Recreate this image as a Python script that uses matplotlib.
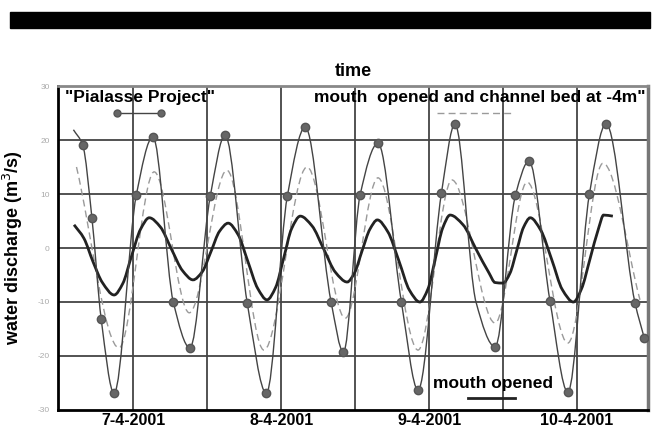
import matplotlib
matplotlib.use('Agg')
import matplotlib.pyplot as plt
from matplotlib.patches import Rectangle, PathPatch
from matplotlib.lines import Line2D
from matplotlib.path import Path

plt.rcParams['font.family'] = ['Liberation Sans', 'DejaVu Sans']

# hours since 7-4-2001 00:00, discharge in m3/s
pialasse_h = [-9.7, -8.2, -6.7, -5.2, -3.1, 0.5, 3.2, 6.5, 9.2, 12.5, 14.9, 18.5,
              21.6, 25.0, 27.9, 32.1, 34.1, 36.8, 39.7, 43.5, 46.2, 50.0, 52.2,
              55.6, 58.7, 62.0, 64.2, 67.6, 70.5, 74.0, 76.7, 81.4, 82.9]
pialasse_q = [21.9, 19.1, 5.6, -13.1, -26.9, 9.8, 20.6, -10.0, -18.5, 9.6, 20.9, -10.2,
              -26.9, 9.6, 22.4, -10.0, -19.3, 9.8, 19.4, -10.0, -26.3, 10.2, 23.0,
              -10.0, -18.3, 9.8, 16.1, -9.8, -26.7, 10.0, 23.0, -10.2, -16.7]
pialasse_marks = [i for i in range(1, len(pialasse_h)) if i != 23]

bed4m_h = [-9.2, -2.3, 3.4, 9.1, 15.2, 21.2, 28.2, 34.4, 39.7, 46.2, 51.7, 58.7,
           63.9, 70.5, 76.2, 82.2]
bed4m_q = [15.0, -18.5, 14.1, -12.0, 14.4, -18.9, 15.0, -13.0, 13.0, -18.9, 12.6,
           -13.9, 12.2, -17.6, 15.7, -9.6]

mouth_h = [-9.6, -8.0, -6.5, -5.0, -3.1, -1.7, -0.3, 1.2, 2.6, 4.4, 6.2, 8.0, 9.7,
           11.2, 12.6, 14.0, 15.4, 17.0, 18.6, 20.2, 21.7, 23.1, 24.4, 25.7, 27.1,
           29.0, 30.9, 32.8, 34.7, 35.9, 37.1, 38.4, 39.6, 41.3, 43.1, 44.8, 46.5,
           47.8, 49.0, 50.2, 51.4, 53.5, 55.6, 57.7, 58.7, 60.0, 61.1, 62.2, 63.3,
           64.4, 66.1, 67.9, 69.6, 71.4, 72.7, 74.1, 75.5, 76.3, 77.8]
mouth_q = [4.3, 1.8, -2.6, -6.4, -8.7, -6.6, -1.6, 3.5, 5.6, 3.9, -0.2, -4.2, -5.9,
           -4.4, -0.7, 3.1, 4.6, 2.5, -2.5, -7.5, -9.6, -7.3, -1.9, 3.6, 5.9,
           4.1, -0.2, -4.5, -6.3, -4.6, -0.6, 3.5, 5.2, 3.0, -2.4, -7.8, -10.0,
           -7.6, -2.0, 3.7, 6.1, 4.3, -0.2, -4.6, -6.4, -6.5, -4.7, -0.5, 3.8,
           5.6, 3.3, -2.2, -7.7, -10.0, -7.6, -2.0, 3.7, 6.1, 5.9]

day_ticks = [0, 24, 48, 72]
day_labels = ['7-4-2001', '8-4-2001', '9-4-2001', '10-4-2001']
q_ticks = [-30, -20, -10, 0, 10, 20, 30]


def smooth_path(xs, ys):
    # smoothed line through the points, no overshoot at the peaks
    n = len(xs)
    d = [(ys[k + 1] - ys[k]) / (xs[k + 1] - xs[k]) for k in range(n - 1)]
    h = [xs[k + 1] - xs[k] for k in range(n - 1)]
    m = [d[0]]
    for k in range(1, n - 1):
        if d[k - 1] * d[k] <= 0:
            m.append(0.0)
        else:
            m.append(3 * (h[k - 1] + h[k]) /
                     ((2 * h[k] + h[k - 1]) / d[k - 1] + (h[k] + 2 * h[k - 1]) / d[k]))
    m.append(d[-1])
    verts = [(xs[0], ys[0])]
    codes = [Path.MOVETO]
    for k in range(n - 1):
        verts += [(xs[k] + h[k] / 3, ys[k] + m[k] * h[k] / 3),
                  (xs[k + 1] - h[k] / 3, ys[k + 1] - m[k + 1] * h[k] / 3),
                  (xs[k + 1], ys[k + 1])]
        codes += [Path.CURVE4] * 3
    return Path(verts, codes)


fig = plt.figure(figsize=(6.59, 4.30), dpi=100)
ax = fig.add_axes([58/659, 1-410/430, 590/659, 324/430])

fig.add_artist(Rectangle((10/659, 1-28/430), 640/659, 16/430,
                         transform=fig.transFigure, color='black'))

for y in q_ticks[1:-1]:
    ax.axhline(y, color='#444444', lw=1.3, zorder=1)
for x in range(0, 84, 12):
    ax.axvline(x, color='#444444', lw=1.3, zorder=1)

ax.add_patch(PathPatch(smooth_path(bed4m_h, bed4m_q), fill=False, ec='#9a9a9a',
                       lw=1, ls=(0, (5, 3)), zorder=2))
ax.add_patch(PathPatch(smooth_path(mouth_h, mouth_q), fill=False, ec='#222222',
                       lw=2, zorder=3))
ax.add_patch(PathPatch(smooth_path(pialasse_h, pialasse_q), fill=False, ec='#444444',
                       lw=1, zorder=4))
ax.plot([pialasse_h[i] for i in pialasse_marks], [pialasse_q[i] for i in pialasse_marks],
        ls='none', marker='o', ms=6, mfc='#666666', mec='#555555', zorder=5)

ax.set_xlim(-12.2, 83.5)
ax.set_ylim(-30, 30)
ax.set_xticks(day_ticks)
ax.set_xticklabels(day_labels, fontsize=11.5, fontweight='bold')
ax.set_yticks(q_ticks)
ax.set_yticklabels([str(v) for v in q_ticks], fontsize=6, color='#aaaaaa')
ax.tick_params(length=0, pad=2)
ax.tick_params(axis='y', pad=6)

for s in ['left', 'bottom']:
    ax.spines[s].set_linewidth(2)
    ax.spines[s].set_color('black')
ax.spines['right'].set_linewidth(2.5)
ax.spines['right'].set_color('#777777')
ax.spines['top'].set_linewidth(2)
ax.spines['top'].set_color('#888888')

ax.set_title('time', fontsize=13, fontweight='bold', pad=7)
ax.set_ylabel('water discharge (m$^3$/s)', fontsize=13, fontweight='bold', labelpad=9)

ax.text(0.012, 0.963, '"Pialasse Project"', transform=ax.transAxes, fontsize=12.5,
        fontweight='bold', va='center', ha='left')
ax.add_line(Line2D([0.1, 0.175], [0.917, 0.917], transform=ax.transAxes, color='#444444',
                   lw=1, marker='o', ms=5, mfc='#666666', mec='#555555', markevery=[0, 1]))
ax.text(0.995, 0.963, 'mouth  opened and channel bed at -4m"', transform=ax.transAxes,
        fontsize=12.5, fontweight='bold', va='center', ha='right')
ax.add_line(Line2D([0.642, 0.77], [0.917, 0.917], transform=ax.transAxes, color='#9a9a9a',
                   lw=1, ls=(0, (5, 3))))
ax.text(0.635, 0.083, 'mouth opened', transform=ax.transAxes, fontsize=12.5,
        fontweight='bold', va='center', ha='left')
ax.add_line(Line2D([0.695, 0.775], [0.037, 0.037], transform=ax.transAxes, color='#222222',
                   lw=2))

fig.savefig('out.png', dpi=100)
